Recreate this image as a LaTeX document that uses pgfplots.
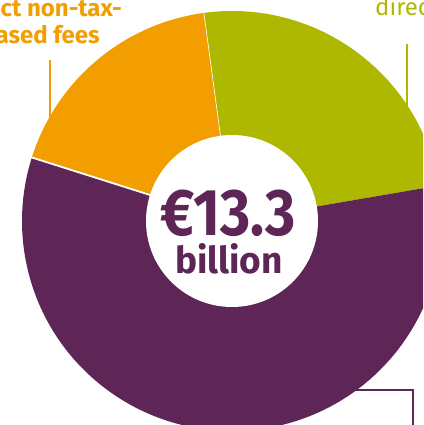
\documentclass[border=0pt]{standalone}
\usepackage{pgfplots}
\usepackage{pgfplotstable}
\pgfplotsset{compat=1.18}
\usepackage{fontspec}
\setmainfont{Fira Sans}

\definecolor{plum}{RGB}{94,38,87}
\definecolor{olive}{RGB}{174,184,0}
\definecolor{amber}{RGB}{242,158,0}

% shares of the 13.3 billion, clockwise from the top
\pgfplotstableread{
part value
olive 3.25
plum 7.66
amber 2.39
}\shares

\newcommand\sector[3]{%
  \fill[#1] (axis cs:0,0) -- ++(#2:210pt) arc[start angle=#2, end angle=#3, radius=210pt] -- cycle;}

\begin{document}
\begin{tikzpicture}
\path[use as bounding box, clip] (0,0) rectangle (423pt,425pt);
\begin{axis}[
    at={(0,0)}, anchor=south west,
    scale only axis,
    width=423pt, height=425pt,
    xmin=-232, xmax=191,
    ymin=-204, ymax=221,
    hide axis,
    clip=false,
]
\pgfplotstablegetelem{0}{value}\of\shares \let\vA\pgfplotsretval
\pgfplotstablegetelem{1}{value}\of\shares \let\vB\pgfplotsretval
\pgfplotstablegetelem{2}{value}\of\shares \let\vC\pgfplotsretval
\pgfmathsetmacro\tot{\vA+\vB+\vC}
\pgfmathsetmacro\aA{97.7}
\pgfmathsetmacro\aB{\aA-360*\vA/\tot}
\pgfmathsetmacro\aC{\aB-360*\vB/\tot}
\pgfmathsetmacro\aD{\aC-360*\vC/\tot}
\sector{olive}{\aA}{\aB}
\sector{plum}{\aB}{\aC}
\sector{amber}{\aC}{\aD}
\draw[white, line width=1.8pt] (axis cs:0,0) -- ++(\aC:212pt);
\draw[white, line width=0.6pt] (axis cs:0,0) -- ++(\aA:212pt);
\fill[white] (axis cs:0,0) circle[radius=86pt];

% leader lines
\draw[amber, line width=1.4pt] (axis cs:-182,161) -- (axis cs:-182,103);
\draw[olive, line width=1.4pt] (axis cs:175,177) -- (axis cs:175,111);
\draw[plum, line width=1.4pt] (axis cs:121,-169) -- (axis cs:181,-169) -- (axis cs:181,-215);

% labels
\node[anchor=base east, text=amber, font=\fontsize{24}{26}\selectfont\bfseries, inner sep=0pt] at (axis cs:-110,204) {Direct non-tax-};
\node[anchor=base east, text=amber, font=\fontsize{24}{26}\selectfont\bfseries, inner sep=0pt] at (axis cs:-132,177) {based fees};
\node[anchor=base west, text=olive, font=\fontsize{24}{26}\selectfont, inner sep=0pt] at (axis cs:143,205) {direct};

\node[anchor=base, text=plum, font=\fontsize{66}{66}\selectfont\bfseries, inner sep=0pt, xscale=0.88] at (axis cs:-4,-15) {€13.3};
\node[anchor=base, text=plum, font=\fontsize{37}{38}\selectfont\bfseries, inner sep=0pt] at (axis cs:-3,-53) {billion};
\end{axis}
\end{tikzpicture}
\end{document}
